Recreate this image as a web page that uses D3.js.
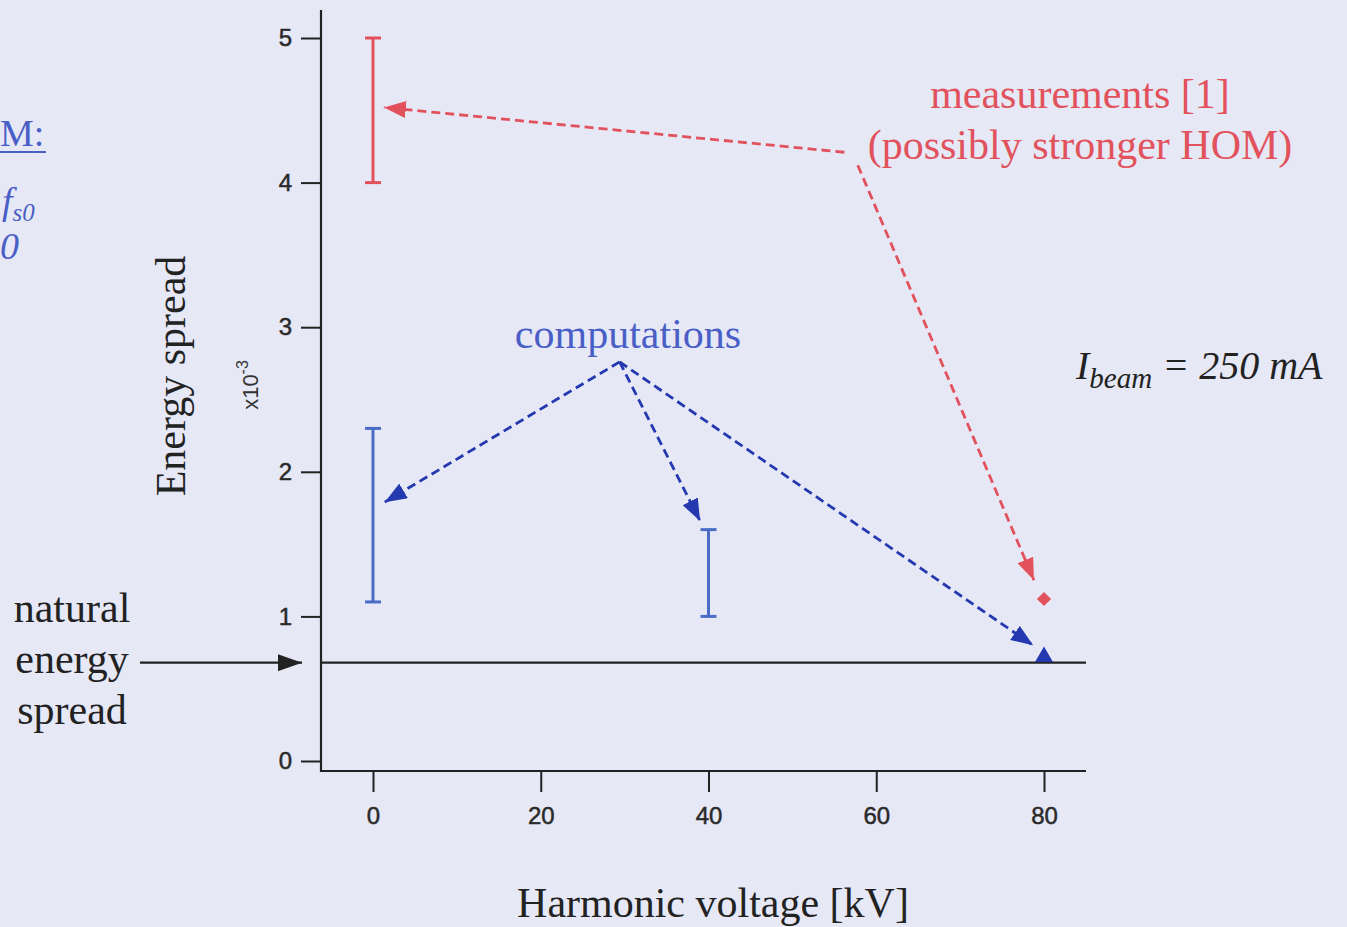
<!DOCTYPE html>
<html>
<head>
<meta charset="utf-8">
<script src="https://cdn.jsdelivr.net/npm/d3@7"></script>
<style>
  html, body { margin: 0; padding: 0; background: #e6e8f6; }
  svg { display: block; }
</style>
</head>
<body>
<svg id="chart" width="1347" height="927"></svg>
<script>
// Energy spread vs. harmonic voltage
const xTicks = [0, 20, 40, 60, 80];
const yTicks = [0, 1, 2, 3, 4, 5];

// measured range (red) and computed ranges (blue), energy spread in units of 1e-3
const measuredBars = [{ v: 0, lo: 4.0, hi: 5.0 }];
const computedBars = [{ v: 0, lo: 1.1, hi: 2.3 }, { v: 40, lo: 1.0, hi: 1.6 }];
const measuredPoints = [{ v: 80, s: 1.12 }];
const computedPoints = [{ v: 80, s: 0.72 }];
const naturalSpread = 0.68;

// annotation arrows in data coordinates
const measuredArrows = [
  { x1: 56.2, y1: 4.21, x2: 1.3, y2: 4.52 },
  { x1: 57.8, y1: 4.12, x2: 78.8, y2: 1.25 }
];
const computedArrows = [
  { x1: 29.4, y1: 2.76, x2: 1.4, y2: 1.79 },
  { x1: 29.4, y1: 2.76, x2: 39.0, y2: 1.66 },
  { x1: 29.4, y1: 2.76, x2: 78.7, y2: 0.80 }
];

const RED = "#e2525c";
const BLUE_BAR = "#4a6cc6";
const BLUE_DARK = "#2438b0";
const BLUE_TEXT = "#4a5fc6";
const INK = "#222";
const serif = "Liberation Serif, 'Times New Roman', serif";
const sans = "Liberation Sans, Arial, sans-serif";

const svg = d3.select("#chart");
const x = d3.scaleLinear().domain([0, 80]).range([373, 1044]);
const y = d3.scaleLinear().domain([0, 5]).range([761, 38]);
const axisLeftX = 321, axisBottomY = 771, plotRight = 1086, plotTop = 10;

// arrowhead markers
const defs = svg.append("defs");
function marker(id, color, len, wid) {
  defs.append("marker")
    .attr("id", id).attr("markerUnits", "userSpaceOnUse")
    .attr("viewBox", `0 0 ${len} ${wid}`)
    .attr("refX", len).attr("refY", wid / 2)
    .attr("markerWidth", len).attr("markerHeight", wid)
    .attr("orient", "auto")
    .append("path").attr("d", `M0,0 L${len},${wid / 2} L0,${wid} Z`).attr("fill", color);
}
marker("headRed", RED, 22, 17);
marker("headBlue", BLUE_DARK, 22, 17);
marker("headBlack", INK, 24, 17);

// axes
const yAxis = d3.axisLeft(y).tickValues(yTicks).tickFormat(d3.format("d"))
  .tickSize(20).tickPadding(9).tickSizeOuter(0);
const xAxis = d3.axisBottom(x).tickValues(xTicks).tickFormat(d3.format("d"))
  .tickSize(21).tickPadding(15).tickSizeOuter(0);

const gy = svg.append("g").attr("transform", `translate(${axisLeftX},0)`).call(yAxis);
gy.select(".domain").remove();
gy.append("line").attr("x1", 0).attr("x2", 0).attr("y1", plotTop).attr("y2", axisBottomY + 1)
  .attr("stroke", INK).attr("stroke-width", 2.2);

const gx = svg.append("g").attr("transform", `translate(0,${axisBottomY})`).call(xAxis);
gx.select(".domain").remove();
gx.append("line").attr("x1", axisLeftX - 1).attr("x2", plotRight).attr("y1", 0).attr("y2", 0)
  .attr("stroke", INK).attr("stroke-width", 2.2);

svg.selectAll(".tick line").attr("stroke", INK).attr("stroke-width", 2);
svg.selectAll(".tick text").attr("font-family", sans).attr("font-size", 24)
  .attr("fill", "#2a2a2a").attr("stroke", "#2a2a2a").attr("stroke-width", 0.5);

// axis titles
svg.append("text").attr("transform", "translate(185,376) rotate(-90)")
  .attr("text-anchor", "middle").attr("font-family", serif)
  .attr("font-size", 42).attr("fill", INK).text("Energy spread");
svg.append("text").attr("transform", "translate(258,385) rotate(-90)")
  .attr("text-anchor", "middle").attr("font-family", sans)
  .attr("font-size", 22).attr("fill", "#333")
  .call(t => { t.append("tspan").text("x10"); t.append("tspan").attr("dy", -10).attr("font-size", 16).text("-3"); });
svg.append("text").attr("x", 713).attr("y", 917).attr("text-anchor", "middle")
  .attr("font-family", serif).attr("font-size", 42).attr("fill", INK)
  .text("Harmonic voltage [kV]");

// natural energy spread line
svg.append("line").attr("x1", axisLeftX).attr("x2", plotRight)
  .attr("y1", y(naturalSpread)).attr("y2", y(naturalSpread))
  .attr("stroke", INK).attr("stroke-width", 2.2);

// error bars
function errorBars(data, color) {
  const g = svg.append("g").attr("stroke", color).attr("stroke-width", 3);
  data.forEach(d => {
    g.append("line").attr("x1", x(d.v)).attr("x2", x(d.v)).attr("y1", y(d.lo)).attr("y2", y(d.hi));
    [d.lo, d.hi].forEach(e => g.append("line")
      .attr("x1", x(d.v) - 8).attr("x2", x(d.v) + 8).attr("y1", y(e)).attr("y2", y(e)));
  });
}
errorBars(measuredBars, RED);
errorBars(computedBars, BLUE_BAR);

// point markers: red diamond, blue triangle
svg.selectAll(".meas").data(measuredPoints).join("path")
  .attr("transform", d => `translate(${x(d.v)},${y(d.s)}) rotate(45)`)
  .attr("d", d3.symbol(d3.symbolSquare, 100)).attr("fill", RED);
svg.selectAll(".comp").data(computedPoints).join("path")
  .attr("transform", d => `translate(${x(d.v)},${y(d.s)})`)
  .attr("d", d3.symbol(d3.symbolTriangle, 140)).attr("fill", BLUE_DARK);

// dashed annotation arrows
function arrows(data, color, head) {
  svg.append("g").selectAll("line").data(data).join("line")
    .attr("x1", d => x(d.x1)).attr("y1", d => y(d.y1))
    .attr("x2", d => x(d.x2)).attr("y2", d => y(d.y2))
    .attr("stroke", color).attr("stroke-width", 2.8)
    .attr("stroke-dasharray", "9,5")
    .attr("marker-end", `url(#${head})`);
}
arrows(measuredArrows, RED, "headRed");
arrows(computedArrows, BLUE_DARK, "headBlue");

// labels
svg.append("text").attr("x", 1080).attr("y", 108).attr("text-anchor", "middle")
  .attr("font-family", serif).attr("font-size", 42).attr("fill", RED).text("measurements [1]");
svg.append("text").attr("x", 1080).attr("y", 159).attr("text-anchor", "middle")
  .attr("font-family", serif).attr("font-size", 42).attr("fill", RED).text("(possibly stronger HOM)");
svg.append("text").attr("x", 628).attr("y", 348).attr("text-anchor", "middle")
  .attr("font-family", serif).attr("font-size", 42).attr("fill", BLUE_TEXT).text("computations");

const ib = svg.append("text").attr("x", 1076).attr("y", 379)
  .attr("font-family", serif).attr("font-style", "italic").attr("font-size", 40).attr("fill", INK);
ib.append("tspan").text("I");
ib.append("tspan").attr("dy", 9).attr("font-size", 29).text("beam");
ib.append("tspan").attr("dy", -9).text(" = 250 mA");

// natural energy spread callout
["natural", "energy", "spread"].forEach((w, i) => {
  svg.append("text").attr("x", 72).attr("y", 622 + i * 51).attr("text-anchor", "middle")
    .attr("font-family", serif).attr("font-size", 42).attr("fill", INK).text(w);
});
svg.append("line").attr("x1", 140).attr("x2", 302).attr("y1", y(naturalSpread)).attr("y2", y(naturalSpread))
  .attr("stroke", INK).attr("stroke-width", 2.4).attr("marker-end", "url(#headBlack)");

// fragments of the neighbouring text block at the left edge
svg.append("text").attr("x", 0).attr("y", 146).attr("font-family", serif).attr("font-size", 38)
  .attr("fill", BLUE_TEXT).text("M:");
svg.append("line").attr("x1", 0).attr("x2", 46).attr("y1", 152).attr("y2", 152)
  .attr("stroke", BLUE_TEXT).attr("stroke-width", 2);
const fs = svg.append("text").attr("x", 2).attr("y", 214).attr("font-family", serif)
  .attr("font-style", "italic").attr("font-size", 38).attr("fill", BLUE_TEXT);
fs.append("tspan").text("f");
fs.append("tspan").attr("dy", 7).attr("font-size", 25).text("s0");
svg.append("text").attr("x", 0).attr("y", 259).attr("font-family", serif)
  .attr("font-style", "italic").attr("font-size", 38).attr("fill", BLUE_TEXT).text("0");
</script>
</body>
</html>
